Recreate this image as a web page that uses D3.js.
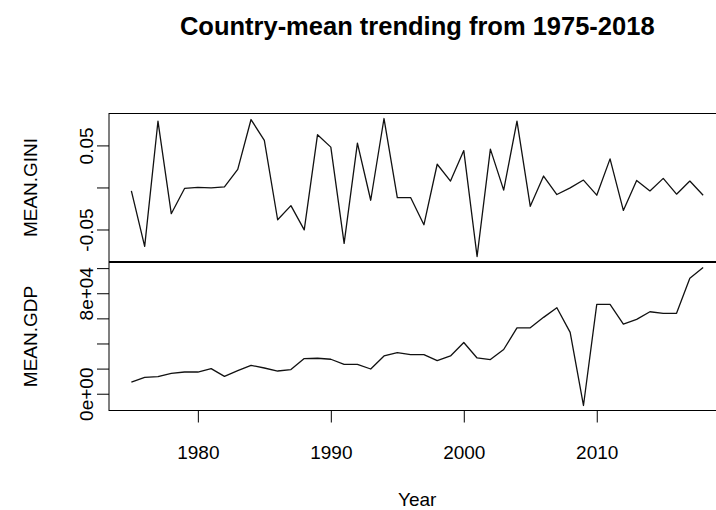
<!DOCTYPE html>
<html>
<head>
<meta charset="utf-8">
<script src="https://cdn.jsdelivr.net/npm/d3@7/dist/d3.min.js"></script>
<style>
  body { margin: 0; background: #fff; }
  svg text { font-family: "Liberation Sans", Arial, Helvetica, sans-serif; fill: #000; }
</style>
</head>
<body>
<svg id="chart" width="716" height="510"></svg>
<script>
// Years covered by the series
const years = [1975, 1976, 1977, 1978, 1979, 1980, 1981, 1982, 1983, 1984,
               1985, 1986, 1987, 1988, 1989, 1990, 1991, 1992, 1993, 1994,
               1995, 1996, 1997, 1998, 1999, 2000, 2001, 2002, 2003, 2004,
               2005, 2006, 2007, 2008, 2009, 2010, 2011, 2012, 2013, 2014,
               2015, 2016, 2017, 2018];

// Country-mean Gini (demeaned)
const meanGini = [-0.0041, -0.0701, 0.0788, -0.0312, -0.0012, 0.0000, -0.0005, 0.0007, 0.0216, 0.0808,
                  0.0559, -0.0384, -0.0216, -0.0504, 0.0628, 0.0480, -0.0665, 0.0528, -0.0152, 0.0820,
                  -0.0120, -0.0120, -0.0444, 0.0276, 0.0076, 0.0439, -0.0821, 0.0456, -0.0032, 0.0788,
                  -0.0224, 0.0136, -0.0084, -0.0005, 0.0088, -0.0092, 0.0340, -0.0273, 0.0084, -0.0041,
                  0.0108, -0.0080, 0.0076, -0.0092];

// Country-mean GDP
const meanGdp = [9280, 13040, 13600, 16240, 17280, 17280, 20000, 13840, 18400, 22640,
                 20480, 18080, 19200, 28000, 28240, 27440, 23440, 23440, 19680, 30080,
                 32800, 31200, 31200, 26400, 30080, 40800, 28480, 27200, 35200, 52480,
                 52480, 60800, 68480, 48800, -9360, 71200, 71200, 55440, 59200, 65280,
                 64000, 64000, 92000, 100480];

// Axis ticks and the tick labels that are printed
const yearTicks = [1980, 1990, 2000, 2010];
const giniTicks = [-0.05, 0, 0.05];
const giniTickLabels = ["-0.05", "", "0.05"];
const gdpTicks = [0, 20000, 40000, 60000, 80000, 100000];
const gdpTickLabels = ["0e+00", "", "", "", "8e+04", ""];

const titleText = "Country-mean trending from 1975-2018";
const xTitle = "Year";
const giniTitle = "MEAN.GINI";
const gdpTitle = "MEAN.GDP";

const svg = d3.select("#chart");

// Extend a range by 4% on each side, as base graphics does
function padded(ext) {
  const d = (ext[1] - ext[0]) * 0.04;
  return [ext[0] - d, ext[1] + d];
}

const plotLeft = 108.5, plotRight = 726;
const panels = [
  { values: meanGini, ticks: giniTicks, labels: giniTickLabels, title: giniTitle, top: 113, bottom: 262 },
  { values: meanGdp,  ticks: gdpTicks,  labels: gdpTickLabels,  title: gdpTitle,  top: 262, bottom: 411 }
];

const x = d3.scaleLinear().domain(padded(d3.extent(years))).range([plotLeft, plotRight]);

const axisFont = 19;
const tickLen = 12;

panels.forEach((p, i) => {
  const y = d3.scaleLinear().domain(padded(d3.extent(p.values))).range([p.bottom, p.top]);
  const g = svg.append("g");

  // series line
  const line = d3.line().x((d, k) => x(years[k])).y(d => y(d));
  g.append("path")
    .datum(p.values)
    .attr("d", line)
    .attr("fill", "none")
    .attr("stroke", "#111")
    .attr("stroke-width", 1.3)
    .attr("stroke-linejoin", "round");

  // panel frame
  const r0 = p.top + 0.5;
  const r1 = p.bottom - 0.5;
  g.append("rect")
    .attr("x", plotLeft + 0.5).attr("y", r0)
    .attr("width", plotRight - plotLeft).attr("height", r1 - r0)
    .attr("fill", "none").attr("stroke", "#000").attr("stroke-width", 1);

  // y axis ticks
  const yAxis = d3.axisLeft(y)
    .tickValues(p.ticks)
    .tickSize(tickLen)
    .tickFormat((d, k) => p.labels[k]);
  const ag = g.append("g").attr("transform", `translate(${plotLeft + 0.5},0)`).call(yAxis);
  ag.select(".domain").remove();
  ag.selectAll(".tick line").attr("stroke", "#000");
  ag.selectAll(".tick text")
    .attr("x", null).attr("dy", null)
    .attr("transform", "translate(-16,0) rotate(-90)")
    .attr("text-anchor", "middle")
    .attr("font-size", axisFont)
    .attr("font-family", "Liberation Sans, Arial, sans-serif");

  // y title
  g.append("text")
    .attr("transform", `translate(37,${(p.top + p.bottom) / 2}) rotate(-90)`)
    .attr("text-anchor", "middle")
    .attr("font-size", axisFont)
    .text(p.title);

  // x axis on the lower panel
  if (i === panels.length - 1) {
    const xAxis = d3.axisBottom(x).tickValues(yearTicks).tickSize(tickLen).tickFormat(d3.format("d"));
    const xg = g.append("g").attr("transform", `translate(0,${p.bottom - 0.5})`).call(xAxis);
    xg.select(".domain").remove();
    xg.selectAll(".tick line").attr("stroke", "#000");
    xg.selectAll(".tick text")
      .attr("y", 48).attr("dy", null)
      .attr("font-size", axisFont)
      .attr("font-family", "Liberation Sans, Arial, sans-serif");
  }
});

// x title
svg.append("text")
  .attr("x", (plotLeft + plotRight) / 2)
  .attr("y", 506)
  .attr("text-anchor", "middle")
  .attr("font-size", axisFont)
  .text(xTitle);

// main title
svg.append("text")
  .attr("x", (plotLeft + plotRight) / 2)
  .attr("y", 35)
  .attr("text-anchor", "middle")
  .attr("font-size", 25.5)
  .attr("font-weight", "bold")
  .text(titleText);
</script>
</body>
</html>
